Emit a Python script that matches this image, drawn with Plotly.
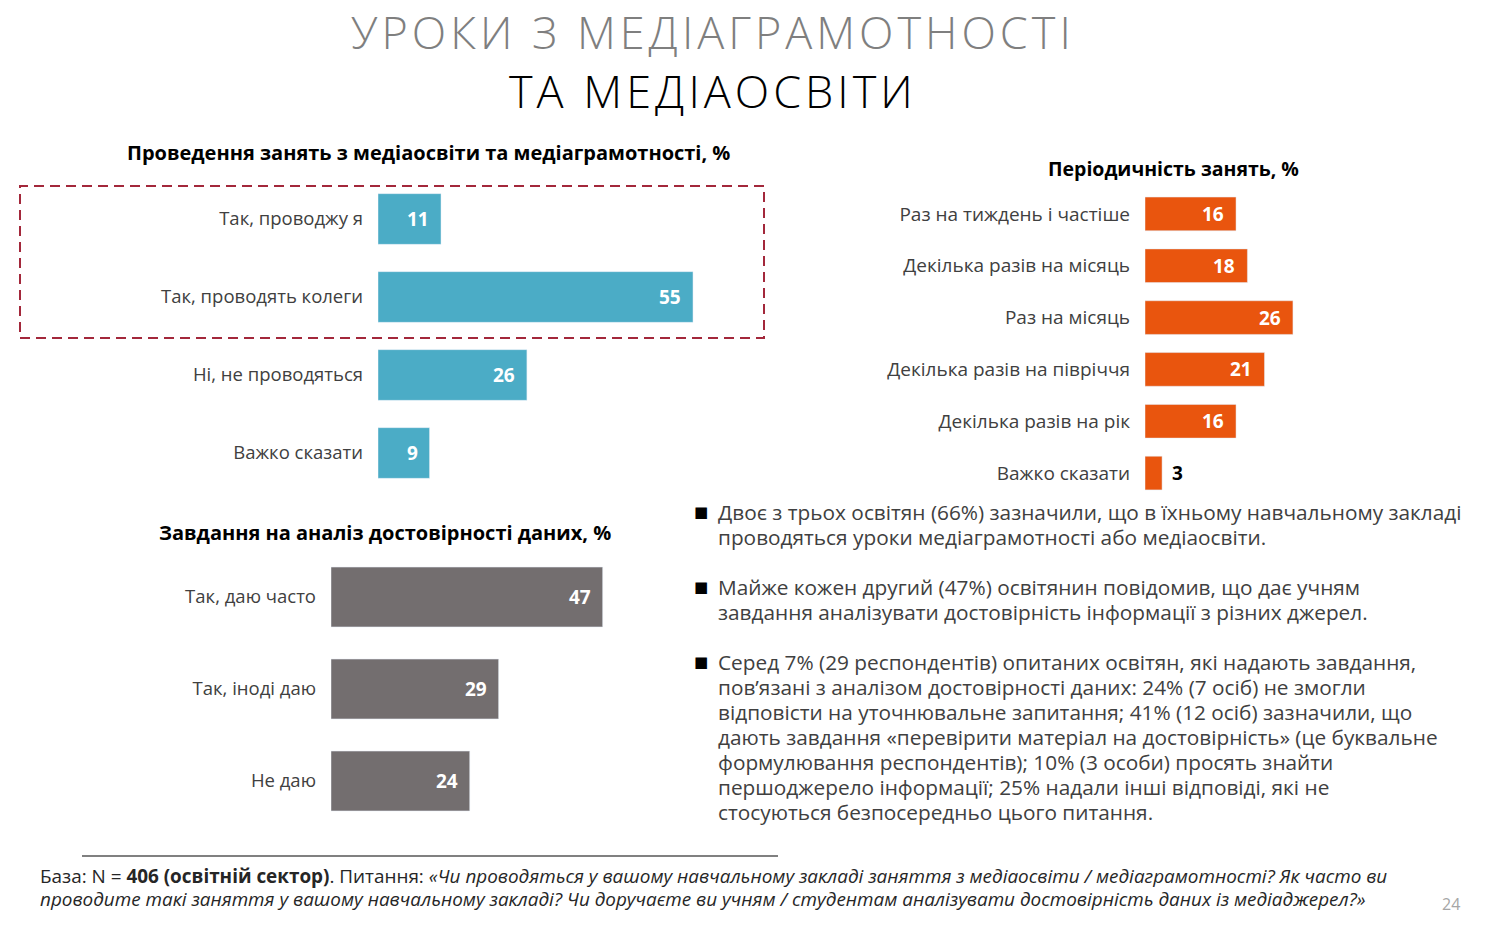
import plotly.graph_objects as go

# ---------------- data ----------------
cat_conduct = ["Так, проводжу я", "Так, проводять колеги", "Ні, не проводяться", "Важко сказати"]
val_conduct = [11, 55, 26, 9]

cat_freq = ["Раз на тиждень і частіше", "Декілька разів на місяць", "Раз на місяць",
            "Декілька разів на півріччя", "Декілька разів на рік", "Важко сказати"]
val_freq = [16, 18, 26, 21, 16, 3]

cat_tasks = ["Так, даю часто", "Так, іноді даю", "Не даю"]
val_tasks = [47, 29, 24]

title_line1 = "УРОКИ З МЕДІАГРАМОТНОСТІ"
title_line2 = "ТА МЕДІАОСВІТИ"
title_conduct = "Проведення занять з медіаосвіти та медіаграмотності, %"
title_freq = "Періодичність занять, %"
title_tasks = "Завдання на аналіз достовірності даних, %"

bullets = [
    ["Двоє з трьох освітян (66%) зазначили, що в їхньому навчальному закладі",
     "проводяться уроки медіаграмотності або медіаосвіти."],
    ["Майже кожен другий (47%) освітянин повідомив, що дає учням",
     "завдання аналізувати достовірність інформації з різних джерел."],
    ["Серед 7% (29 респондентів) опитаних освітян, які надають завдання,",
     "пов’язані з аналізом достовірності даних: 24% (7 осіб) не змогли",
     "відповісти на уточнювальне запитання; 41% (12 осіб) зазначили, що",
     "дають завдання «перевірити матеріал на достовірність» (це буквальне",
     "формулювання респондентів); 10% (3 особи) просять знайти",
     "першоджерело інформації; 25% надали інші відповіді, які не",
     "стосуються безпосередньо цього питання."],
]

footnote = [
    "База: N = <b>406 (освітній сектор)</b>. Питання: <i>«Чи проводяться у вашому навчальному закладі "
    "заняття з медіаосвіти / медіаграмотності? Як часто ви</i>",
    "<i>проводите такі заняття у вашому навчальному закладі? Чи доручаєте ви учням / студентам "
    "аналізувати достовірність даних із медіаджерел?»</i>",
]
page_no = "24"

# ---------------- style ----------------
W, H = 1500, 938
TEAL = "#4BACC6"
ORANGE = "#E9550E"
GRAY = "#736E6F"
LABEL = "#404040"
FONT = "Open Sans"


def px(x):
    return x / W


def py(y):
    return 1 - y / H


fig = go.Figure()

fig.add_trace(go.Bar(x=val_conduct, y=cat_conduct, orientation="h", marker_color=TEAL,
                     xaxis="x", yaxis="y", hoverinfo="skip"))
fig.add_trace(go.Bar(x=val_freq, y=cat_freq, orientation="h", marker_color=ORANGE,
                     xaxis="x2", yaxis="y2", hoverinfo="skip"))
fig.add_trace(go.Bar(x=val_tasks, y=cat_tasks, orientation="h", marker_color=GRAY,
                     xaxis="x3", yaxis="y3", hoverinfo="skip"))

xa = dict(showgrid=False, zeroline=False, showticklabels=False, showline=False, fixedrange=True)
ya = dict(showgrid=False, zeroline=False, showline=False, autorange="reversed", ticks="",
          tickfont=dict(family=FONT, size=18.5, color=LABEL), ticklabelstandoff=14)

fig.update_layout(
    width=W, height=H, autosize=False,
    margin=dict(l=0, r=0, t=0, b=0),
    paper_bgcolor="white", plot_bgcolor="white",
    showlegend=False, bargap=0.35,
    xaxis=dict(xa, domain=[px(378), px(378 + 60 * 5.727)], range=[0, 60]),
    yaxis=dict(ya, domain=[py(492), py(180)], anchor="x"),
    xaxis2=dict(xa, domain=[px(1145), px(1145 + 30 * 5.69)], range=[0, 30], anchor="y2"),
    yaxis2=dict(ya, domain=[py(499), py(188)], anchor="x2",
                tickfont=dict(family=FONT, size=19, color=LABEL)),
    xaxis3=dict(xa, domain=[px(331), px(331 + 50 * 5.78)], range=[0, 50], anchor="y3"),
    yaxis3=dict(ya, domain=[py(827), py(551)], anchor="x3"),
)

annotations = []


def value_labels(vals, cats, xr, yr, small=5):
    for v, c in zip(vals, cats):
        if v >= small:
            annotations.append(dict(x=v, y=c, xref=xr, yref=yr, text=f"<b>{v}</b>", showarrow=False,
                                    xanchor="right", xshift=-10,
                                    font=dict(family=FONT, size=19, color="white")))
        else:
            annotations.append(dict(x=v, y=c, xref=xr, yref=yr, text=f"<b>{v}</b>", showarrow=False,
                                    xanchor="left", xshift=8,
                                    font=dict(family=FONT, size=19, color="black")))


value_labels(val_conduct, cat_conduct, "x", "y")
value_labels(val_freq, cat_freq, "x2", "y2")
value_labels(val_tasks, cat_tasks, "x3", "y3")


def paper_text(x, y, text, font, xanchor="center", yanchor="middle", align="left"):
    annotations.append(dict(x=px(x), y=py(y), xref="paper", yref="paper", text=text,
                            showarrow=False, xanchor=xanchor, yanchor=yanchor, align=align,
                            font=font))


# main title: one two-line annotation
title_html = (f'<span style="color:#7F7F7F;letter-spacing:4px">{title_line1}</span><br>'
              f'<span style="color:#000000;letter-spacing:4px">{title_line2}</span>')
paper_text(713, 61, title_html, dict(family=FONT, size=45, color="black", weight=300), align="center")
paper_text(429, 153, f"<b>{title_conduct}</b>", dict(family=FONT, size=20, color="black"))
paper_text(1173, 169, f"<b>{title_freq}</b>", dict(family=FONT, size=19.5, color="black"))
paper_text(385, 532, f"<b>{title_tasks}</b>", dict(family=FONT, size=20, color="black"))

# bullets
bullet_first = [512, 587, 662]
for y0, lines in zip(bullet_first, bullets):
    paper_text(692, y0, "■", dict(family="DejaVu Sans", size=15, color="black"), xanchor="left")
    for i, line in enumerate(lines):
        paper_text(716, y0 + 25 * i, line, dict(family=FONT, size=20.8, color=LABEL), xanchor="left")

for i, line in enumerate(footnote):
    paper_text(38, 876 + 23 * i, line, dict(family=FONT, size=18.9, color="#262626"), xanchor="left")

paper_text(1451, 904, page_no, dict(family=FONT, size=16, color="#A6A6A6"))

fig.update_layout(annotations=annotations)

fig.add_shape(type="rect", xref="paper", yref="paper", x0=px(20), x1=px(764), y0=py(338), y1=py(186),
              line=dict(color="#A3283B", width=2, dash="10px,6px"))
fig.add_shape(type="line", xref="paper", yref="paper", x0=px(82), x1=px(778), y0=py(856), y1=py(856),
              line=dict(color="#808080", width=2))

fig.write_html("out.html", config={"displayModeBar": False},
               post_script="document.body.style.margin='0px';")
